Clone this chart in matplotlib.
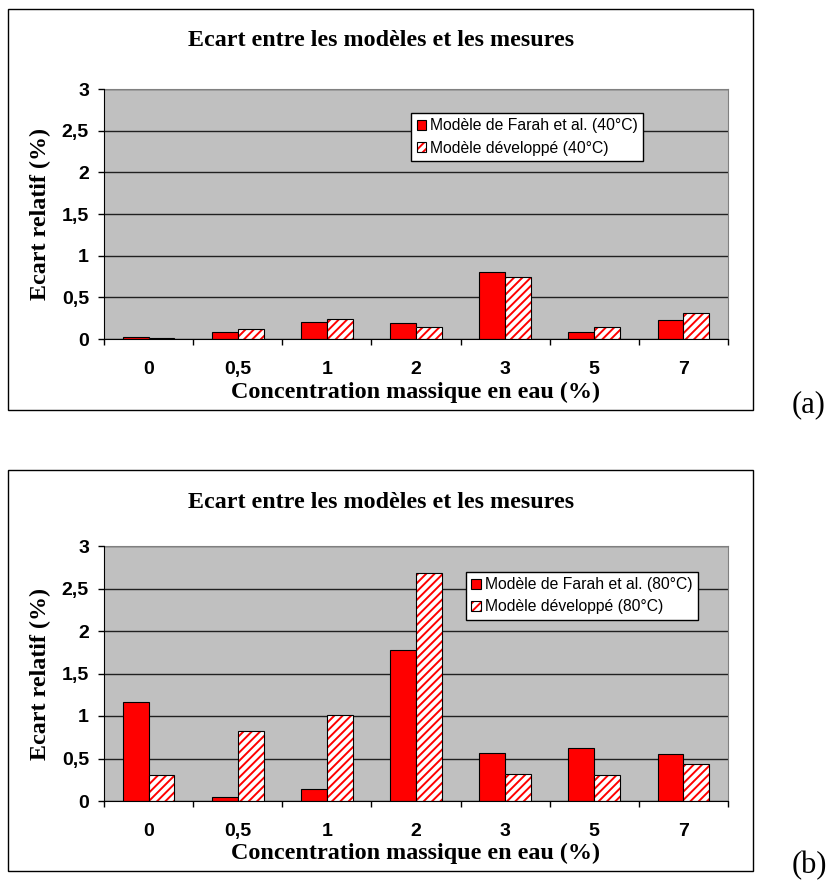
import matplotlib
matplotlib.use('Agg')
import matplotlib.pyplot as plt
import numpy as np
from matplotlib.patches import Patch, Rectangle
from matplotlib.legend_handler import HandlerTuple

# data
categories = ['0', '0,5', '1', '2', '3', '5', '7']
farah_40 = [0.02, 0.08, 0.20, 0.19, 0.80, 0.08, 0.23]
dev_40 = [0.01, 0.12, 0.24, 0.15, 0.75, 0.14, 0.31]
farah_80 = [1.16, 0.05, 0.14, 1.78, 0.56, 0.62, 0.55]
dev_80 = [0.31, 0.82, 1.01, 2.68, 0.32, 0.31, 0.43]
y_ticks = [0, 0.5, 1, 1.5, 2, 2.5, 3]
y_ticklabels = ['0', '0,5', '1', '1,5', '2', '2,5', '3']

plt.rcParams['hatch.linewidth'] = 1.4

W, H = 828, 881
fig = plt.figure(figsize=(W / 100, H / 100), dpi=100)
fig.patch.set_facecolor('white')

def fx(px):
    return px / W

def fy(py):
    return 1 - py / H

serif = dict(family='Liberation Serif', weight='bold')
sans_b = dict(family='Liberation Sans', weight='bold')


def panel(top, bottom, frame_top, frame_bot, farah, dev, temp, leg_anchor, tag):
    # outer chart frame
    fig.patches.append(Rectangle((fx(8), fy(frame_bot)), fx(753) - fx(8), fy(frame_top) - fy(frame_bot),
                                 transform=fig.transFigure, fill=False, edgecolor='black', lw=1))
    ax = fig.add_axes([fx(104), fy(bottom), fx(728) - fx(104), fy(top) - fy(bottom)])
    ax.set_facecolor('#c0c0c0')
    x = np.arange(len(categories))
    w = 0.29
    ax.bar(x - w / 2, farah, w, color='#ff0000', edgecolor='black', lw=0.8, zorder=3)
    ax.bar(x + w / 2, dev, w, color='white', edgecolor='#ff0000', hatch='////', lw=0, zorder=3)
    ax.bar(x + w / 2, dev, w, fill=False, edgecolor='black', lw=0.8, zorder=4)

    ax.set_xlim(-0.5, len(categories) - 0.5)
    ax.set_ylim(0, 3)
    ax.set_yticks(y_ticks)
    ax.set_yticklabels(y_ticklabels, fontsize=14, **sans_b)
    ax.set_xticks(x)
    ax.set_xticklabels(categories, fontsize=14, **sans_b)
    ax.set_xticks(np.arange(len(categories) + 1) - 0.5, minor=True)
    ax.tick_params(axis='x', which='major', length=0, pad=16)
    ax.tick_params(axis='x', which='minor', length=4, width=1, direction='out')
    ax.tick_params(axis='y', length=4.3, width=1, pad=6.5)
    ax.grid(axis='y', color='#202020', lw=1, zorder=1)
    ax.set_axisbelow(True)
    for s in ['left', 'bottom']:
        ax.spines[s].set_color('black')
        ax.spines[s].set_zorder(5)
    for s in ['top', 'right']:
        ax.spines[s].set_color('#808080')

    h1 = Patch(facecolor='#ff0000', edgecolor='black', lw=0.8)
    h2a = Patch(facecolor='white', edgecolor='#ff0000', hatch='////', lw=0)
    h2b = Patch(fill=False, edgecolor='black', lw=0.8)
    leg = ax.legend([h1, (h2a, h2b)],
                    ['Modèle de Farah et al. (%s)' % temp, 'Modèle développé (%s)' % temp],
                    handler_map={tuple: HandlerTuple(ndivide=1, pad=0)},
                    loc='upper left', bbox_to_anchor=leg_anchor, borderaxespad=0,
                    prop=dict(family='Liberation Sans', size=11.3),
                    handlelength=0.6, handleheight=0.6, handletextpad=0.25,
                    borderpad=0.35, labelspacing=0.45, fancybox=False, framealpha=1,
                    edgecolor='black')
    leg.get_frame().set_linewidth(1)
    leg.set_zorder(6)

    fig.text(fx(381), fy(frame_top + 37.5), 'Ecart entre les modèles et les mesures',
             ha='center', va='baseline', fontsize=17.3, **serif)
    fig.text(fx(416), fy(frame_top + 389), 'Concentration massique en eau (%)',
             ha='center', va='baseline', fontsize=17.4, **serif)
    fig.text(fx(40), fy((top + bottom) / 2), 'Ecart relatif (%)', rotation=90,
             ha='center', va='center', fontsize=17.3, **serif)
    fig.text(fx(792), fy(frame_bot - 5), tag, ha='left', va='center',
             fontsize=22, family='Liberation Serif')


panel(89, 339, 9, 410, farah_40, dev_40, '40°C', (0.492, 0.904), '(a)')
panel(546, 801, 470, 871, farah_80, dev_80, '80°C', (0.580, 0.899), '(b)')

fig.savefig('out.png', dpi=100)
